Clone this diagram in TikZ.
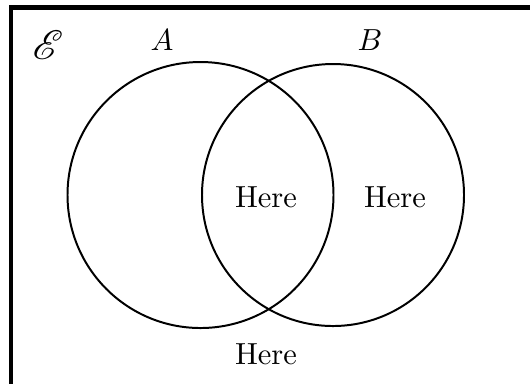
\documentclass[tikz,border=0pt]{standalone}
\usepackage{mathrsfs}
\begin{document}
\begin{tikzpicture}[x=0.328pt,y=-0.328pt,
  setcircle/.style={line width=0.65pt},
  lbl/.style={inner sep=0pt}]
\useasboundingbox (0,0) rectangle (530,383);
\clip (0,0) rectangle (530,383);
\draw[line width=1.35pt] (11,7.5) rectangle (560,420);
\node[lbl,scale=1.35] (univ) at (48,45) {$\mathscr{E}$};
\node[lbl] (la) at (162,40) {$A$};
\node[lbl] (lb) at (370,40) {$B$};
\draw[setcircle] (200.5,195) circle[radius=133];
\draw[setcircle] (333,195) circle[radius=131];
\node[lbl] (h1) at (266,197) {Here};
\node[lbl] (h2) at (395,197) {Here};
\node[lbl] (h3) at (266,354) {Here};
\end{tikzpicture}
\end{document}
